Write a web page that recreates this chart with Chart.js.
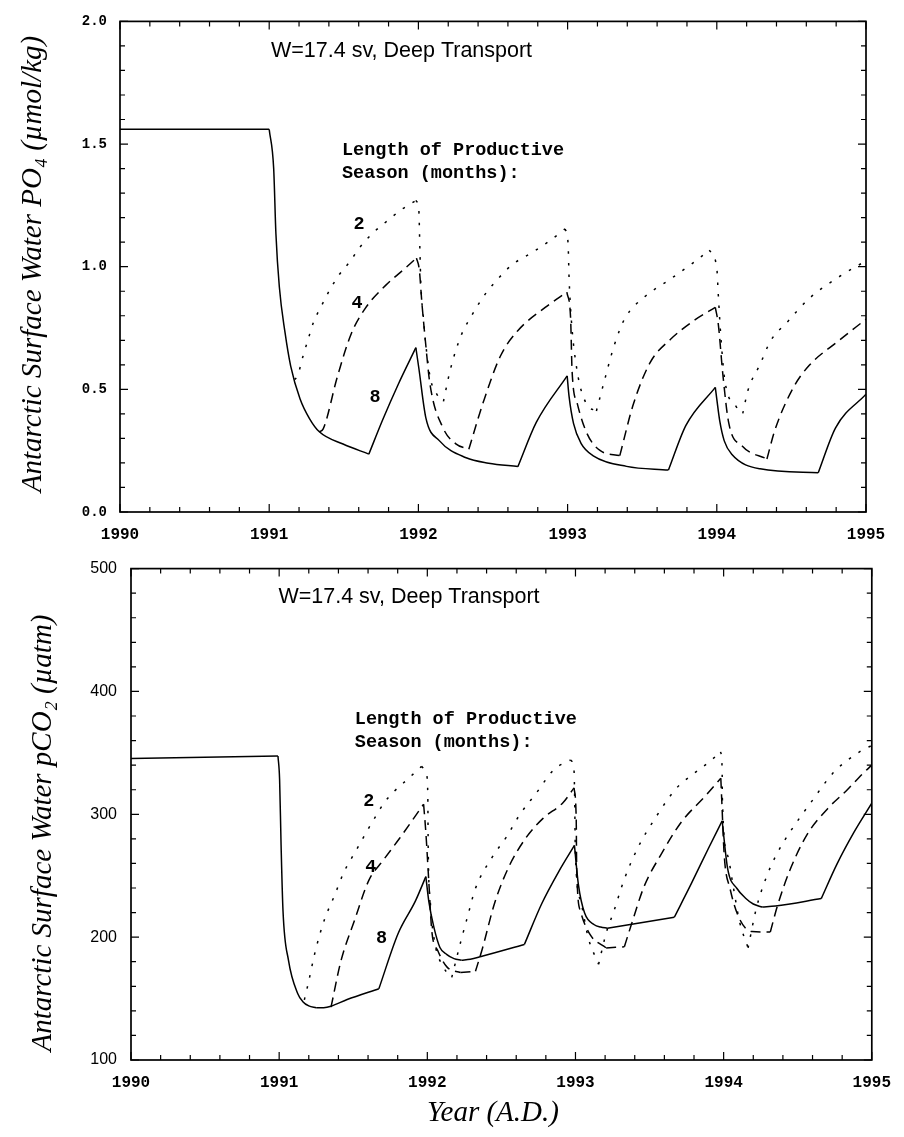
<!DOCTYPE html>
<html>
<head>
<meta charset="utf-8">
<script src="https://cdn.jsdelivr.net/npm/chart.js@4.4.1/dist/chart.umd.min.js"></script>
<style>
  body { margin: 0; background: #fff; }
  #wrap { position: relative; width: 904px; height: 1137px; }
  canvas { position: absolute; left: 0; }
</style>
</head>
<body>
<div id="wrap">
  <canvas id="c-po4" width="904" height="545" style="top:0"></canvas>
  <canvas id="c-pco2" width="904" height="592" style="top:545px"></canvas>
</div>
<script>
// ── DATA ───────────────────────────────────────────────────────────────────
// (W=17.4 sv, deep transport run).

const xTickYears = [1990, 1991, 1992, 1993, 1994, 1995];

// Top panel: surface PO4 (umol/kg)
const po4Ticks = [0.0, 0.5, 1.0, 1.5, 2.0];

const po4Years8 = [1990.0, 1991.0, 1991.03, 1991.045, 1991.068, 1991.106, 1991.144, 1991.207, 1991.271, 1991.336,
  1991.495, 1991.668, 1991.76, 1991.866, 1991.983, 1992.003, 1992.05, 1992.14, 1992.32, 1992.47, 1992.667,
  1992.79, 1992.997, 1993.01, 1993.04, 1993.09, 1993.175, 1993.395, 1993.676, 1993.793, 1993.99, 1994.0,
  1994.02, 1994.05, 1994.1, 1994.29, 1994.68, 1994.796, 1995.0];
const po4Vals8 = [1.56, 1.56, 1.40, 1.134, 0.917, 0.732, 0.595, 0.461, 0.380, 0.327,
  0.277, 0.236, 0.375, 0.522, 0.670, 0.586, 0.384, 0.291, 0.221, 0.199, 0.185,
  0.365, 0.555, 0.47, 0.36, 0.28, 0.228, 0.186, 0.171, 0.353, 0.508, 0.46,
  0.37, 0.29, 0.235, 0.176, 0.160, 0.343, 0.480];

const po4Years4 = [1991.336, 1991.362, 1991.457, 1991.55, 1991.645, 1991.782, 1991.893, 1991.987, 1992.006, 1992.023,
  1992.043, 1992.078, 1992.165, 1992.251, 1992.338, 1992.435, 1992.55, 1992.666, 1992.85, 1992.995, 1993.02,
  1993.03, 1993.065, 1993.13, 1993.217, 1993.35, 1993.44, 1993.553, 1993.69, 1993.853, 1993.99, 1994.01,
  1994.04, 1994.08, 1994.17, 1994.336, 1994.39, 1994.513, 1994.62, 1994.806, 1995.0];
const po4Vals4 = [0.327, 0.339, 0.552, 0.727, 0.831, 0.925, 0.984, 1.035, 0.988, 0.855,
  0.722, 0.520, 0.343, 0.278, 0.256, 0.448, 0.636, 0.739, 0.834, 0.896, 0.792,
  0.575, 0.442, 0.320, 0.251, 0.230, 0.438, 0.609, 0.704, 0.783, 0.834, 0.766,
  0.564, 0.363, 0.269, 0.216, 0.335, 0.507, 0.598, 0.693, 0.786];

const po4Years2 = [1991.17, 1991.19, 1991.226, 1991.26, 1991.298, 1991.35, 1991.402, 1991.471, 1991.54, 1991.609,
  1991.698, 1991.79, 1991.882, 1991.983, 1992.003, 1992.01, 1992.016, 1992.034, 1992.05, 1992.08, 1992.124,
  1992.168, 1992.215, 1992.286, 1992.355, 1992.45, 1992.543, 1992.63, 1992.766, 1992.881, 1992.983, 1993.003,
  1993.01, 1993.024, 1993.064, 1993.126, 1993.193, 1993.24, 1993.313, 1993.383, 1993.52, 1993.678, 1993.86,
  1993.95, 1994.0, 1994.01, 1994.026, 1994.053, 1994.13, 1994.174, 1994.21, 1994.29, 1994.36, 1994.475,
  1994.613, 1994.817, 1995.0];
const po4Vals2 = [0.54, 0.555, 0.634, 0.702, 0.775, 0.840, 0.901, 0.969, 1.020, 1.080,
  1.139, 1.186, 1.231, 1.270, 1.230, 1.069, 0.935, 0.787, 0.681, 0.545, 0.480,
  0.451, 0.583, 0.719, 0.799, 0.890, 0.957, 1.009, 1.059, 1.106, 1.154, 1.097,
  0.953, 0.792, 0.574, 0.441, 0.412, 0.520, 0.680, 0.788, 0.879, 0.945, 1.024,
  1.068, 0.994, 0.886, 0.725, 0.540, 0.430, 0.402, 0.498, 0.602, 0.697, 0.776,
  0.867, 0.958, 1.024];

// Bottom panel: surface pCO2 (uatm)
const pco2Ticks = [100, 200, 300, 400, 500];

const pco2Years8 = [1990.0, 1990.992, 1991.003, 1991.013, 1991.026, 1991.063, 1991.125, 1991.16, 1991.2, 1991.25,
  1991.3, 1991.35, 1991.459, 1991.673, 1991.803, 1991.92, 1991.99, 1992.01, 1992.045, 1992.085, 1992.13,
  1992.18, 1992.23, 1992.29, 1992.363, 1992.655, 1992.772, 1992.888, 1992.993, 1993.02, 1993.061, 1993.127,
  1993.17, 1993.215, 1993.667, 1993.78, 1993.897, 1993.99, 1994.027, 1994.09, 1994.15, 1994.2, 1994.26,
  1994.35, 1994.659, 1994.764, 1994.881, 1995.0];
const pco2Vals8 = [345.5, 347.5, 328.3, 274.8, 221.3, 181.1, 154.1, 147.5, 144.0, 142.5,
  142.6, 143.8, 149.2, 158.0, 203.0, 229.5, 249.3, 229.2, 207.7, 191.6, 186.0,
  182.5, 181.2, 182.0, 184.2, 194.0, 227.2, 253.6, 274.7, 242.5, 219.8, 210.1,
  208.2, 207.3, 216.2, 243.1, 272.2, 294.6, 255.8, 239.6, 231.5, 227.0, 224.5,
  225.3, 231.4, 259.2, 285.6, 309.0];
const pco2Kinks8 = [1991.673, 1992.655, 1993.667, 1994.659];

const pco2Years4 = [1991.35, 1991.416, 1991.511, 1991.606, 1991.70, 1991.813, 1991.975, 1991.99, 1992.01, 1992.03,
  1992.071, 1992.135, 1992.224, 1992.325, 1992.37, 1992.455, 1992.55, 1992.666, 1992.781, 1992.917, 1992.99,
  1993.005, 1993.008, 1993.034, 1993.098, 1993.207, 1993.33, 1993.375, 1993.463, 1993.579, 1993.717, 1993.877,
  1993.981, 1993.988, 1994.004, 1994.043, 1994.105, 1994.192, 1994.315, 1994.363, 1994.447, 1994.564, 1994.702,
  1994.838, 1994.941, 1995.0];
const pco2Vals4 = [143, 180.1, 214.5, 246.4, 262.2, 280.5, 308.2, 285.4, 245.3, 205.2,
  189.0, 175.4, 171.2, 172.2, 190.0, 228.0, 257.2, 280.9, 296.7, 309.6, 321.5,
  296.1, 256.0, 221.0, 202.2, 191.2, 192.2, 209.4, 241.2, 267.6, 294.1, 314.9,
  329.4, 309.4, 266.5, 239.6, 215.4, 204.5, 204.2, 225.4, 254.5, 283.6, 304.6,
  320.4, 333.4, 340.0];
const pco2Kinks4 = [1992.325, 1993.33, 1994.315];

const pco2Years2 = [1991.17, 1991.193, 1991.244, 1991.305, 1991.374, 1991.434, 1991.526, 1991.596, 1991.64, 1991.712,
  1991.779, 1991.871, 1991.961, 1991.994, 1992.003, 1992.006, 1992.02, 1992.048, 1992.11, 1992.165, 1992.226,
  1992.274, 1992.323, 1992.44, 1992.532, 1992.624, 1992.74, 1992.855, 1992.967, 1992.99, 1992.995, 1992.999,
  1993.036, 1993.086, 1993.156, 1993.21, 1993.257, 1993.329, 1993.424, 1993.54, 1993.679, 1993.793, 1993.906,
  1993.979, 1993.99, 1993.991, 1994.027, 1994.067, 1994.107, 1994.165, 1994.22, 1994.291, 1994.361, 1994.454,
  1994.593, 1994.742, 1994.935, 1995.0];
const pco2Vals2 = [149, 160.6, 188.6, 214.0, 234.0, 252.1, 272.0, 287.0, 296.0, 310.0,
  319.0, 329.0, 339.0, 332.5, 317.5, 272.0, 229.2, 197.1, 175.4, 167.3, 196.5,
  217.8, 239.0, 265.5, 281.2, 299.7, 318.0, 336.5, 344.2, 336.0, 309.4, 269.2,
  229.0, 199.6, 177.9, 204.5, 220.4, 247.0, 273.5, 297.2, 320.9, 332.6, 343.0,
  350.8, 336.0, 314.7, 266.5, 239.6, 212.8, 191.2, 223.2, 249.7, 268.3, 286.7,
  310.3, 334.0, 352.2, 356.0];

// ── STYLE ──────────────────────────────────────────────────────────────────

const INK = '#000';
const DASH = { 8: [], 4: [10, 6], 2: [2.5, 9] };
const SEASON_LABEL = ['Length of Productive', 'Season (months):'];
const RUN_LABEL = 'W=17.4 sv, Deep Transport';

const FONT_NOTE  = 'bold 18.5px "Liberation Mono"';
const FONT_RUN   = '21.5px "Liberation Sans"';
const FONT_TITLE = 'italic 29px "Liberation Serif"';

// Split a curve at every change of direction (and at listed kinks) so each
// piece can be drawn with monotone smoothing while corners stay sharp.
function pieces(xs, ys, kinks) {
  const out = [];
  let cur = [{ x: xs[0], y: ys[0] }];
  let prev = null;
  for (let i = 1; i < xs.length; i++) {
    const d = Math.sign(ys[i] - ys[i - 1]);
    const kink = kinks.includes(xs[i - 1]);
    if (prev !== null && (d !== prev || kink)) {
      out.push(cur);
      cur = [cur[cur.length - 1]];
    }
    prev = d;
    cur.push({ x: xs[i], y: ys[i] });
  }
  out.push(cur);
  return out;
}

function series(label, xs, ys, months, kinks = []) {
  return pieces(xs, ys, kinks).map(data => ({
    label,
    data,
    borderColor: INK,
    borderWidth: 1.5,
    borderDash: DASH[months],
    pointRadius: 0,
    cubicInterpolationMode: 'monotone',
    fill: false,
  }));
}

// ── PLUGINS ────────────────────────────────────────────────────────────────

// Box frame with inward major/minor tick marks on all four sides
const frameTicks = {
  id: 'frameTicks',
  afterDatasetsDraw(chart, args, opts) {
    const { ctx, chartArea: a, scales: { x, y } } = chart;
    ctx.save();
    ctx.strokeStyle = INK;
    ctx.lineWidth = 1.7;
    ctx.strokeRect(a.left, a.top, a.right - a.left, a.bottom - a.top);
    ctx.lineWidth = 1.2;
    ctx.beginPath();
    const nx = Math.round((x.max - x.min) / opts.xMinor);
    for (let i = 0; i <= nx; i++) {
      const v = x.min + i * opts.xMinor;
      const len = (i % opts.xEvery === 0) ? 8 : 5;
      const px = x.getPixelForValue(v);
      ctx.moveTo(px, a.bottom); ctx.lineTo(px, a.bottom - len);
      ctx.moveTo(px, a.top);    ctx.lineTo(px, a.top + len);
    }
    const ny = Math.round((y.max - y.min) / opts.yMinor);
    for (let i = 0; i <= ny; i++) {
      const v = y.min + i * opts.yMinor;
      const len = (i % opts.yEvery === 0) ? 8 : 5;
      const py = y.getPixelForValue(v);
      ctx.moveTo(a.left, py);  ctx.lineTo(a.left + len, py);
      ctx.moveTo(a.right, py); ctx.lineTo(a.right - len, py);
    }
    ctx.stroke();
    ctx.restore();
  },
};

// Annotations: notes in data units, titles in canvas pixels
const textLayer = {
  id: 'textLayer',
  afterDraw(chart, args, opts) {
    const { ctx, scales: { x, y } } = chart;
    ctx.save();
    ctx.fillStyle = INK;
    ctx.textBaseline = 'middle';
    (opts.notes || []).forEach(n => {
      ctx.font = n.font;
      ctx.textAlign = n.align || 'left';
      ctx.fillText(n.text, x.getPixelForValue(n.x), y.getPixelForValue(n.y));
    });
    (opts.titles || []).forEach(t => {
      ctx.save();
      ctx.translate(t.px, t.py);
      ctx.rotate(t.rot || 0);
      ctx.font = FONT_TITLE;
      ctx.textAlign = 'center';
      ctx.fillText(t.text, 0, 0);
      ctx.restore();
    });
    ctx.restore();
  },
};

// ── CHART BUILDER ──────────────────────────────────────────────────────────

function buildPanel(canvasId, cfg) {
  return new Chart(document.getElementById(canvasId), {
    type: 'line',
    data: { datasets: cfg.datasets },
    plugins: [frameTicks, textLayer],
    options: {
      responsive: false,
      animation: false,
      events: [],
      layout: { padding: cfg.padding },
      plugins: {
        legend: { display: false },
        tooltip: { enabled: false },
        frameTicks: cfg.ticks,
        textLayer: { notes: cfg.notes, titles: cfg.titles },
      },
      scales: {
        x: {
          type: 'linear',
          min: xTickYears[0],
          max: xTickYears[xTickYears.length - 1],
          afterFit: s => { s.height = cfg.xHeight; },
          afterBuildTicks: s => { s.ticks = xTickYears.map(v => ({ value: v })); },
          ticks: { color: INK, font: cfg.xFont, padding: cfg.xPad, maxRotation: 0, callback: v => String(v) },
          grid: { display: false, drawTicks: false },
          border: { display: false },
        },
        y: {
          type: 'linear',
          min: cfg.yTicks[0],
          max: cfg.yTicks[cfg.yTicks.length - 1],
          afterFit: s => { s.width = cfg.yWidth; },
          afterBuildTicks: s => { s.ticks = cfg.yTicks.map(v => ({ value: v })); },
          ticks: { color: INK, font: cfg.yFont, padding: cfg.yPad, callback: cfg.yFmt },
          grid: { display: false, drawTicks: false },
          border: { display: false },
        },
      },
    },
  });
}

buildPanel('c-po4', {
  datasets: [
    ...series('8 months', po4Years8, po4Vals8, 8),
    ...series('4 months', po4Years4, po4Vals4, 4),
    ...series('2 months', po4Years2, po4Vals2, 2),
  ],
  yTicks: po4Ticks,
  yFmt: v => v.toFixed(1),
  padding: { left: 0, right: 38, top: 14, bottom: 0 },
  yWidth: 120, xHeight: 33,
  xFont: { family: 'Liberation Mono', weight: 'bold', size: 16 }, xPad: 13,
  yFont: { family: 'Liberation Mono', weight: 'bold', size: 14 }, yPad: 13,
  ticks: { xMinor: 0.2, xEvery: 5, yMinor: 0.1, yEvery: 5 },
  notes: [
    { text: RUN_LABEL, x: 1991.012, y: 1.878, font: FONT_RUN },
    { text: SEASON_LABEL[0], x: 1991.488, y: 1.476, font: FONT_NOTE },
    { text: SEASON_LABEL[1], x: 1991.488, y: 1.379, font: FONT_NOTE },
    { text: '2', x: 1991.602, y: 1.173, font: FONT_NOTE, align: 'center' },
    { text: '4', x: 1991.588, y: 0.851, font: FONT_NOTE, align: 'center' },
    { text: '8', x: 1991.709, y: 0.468, font: FONT_NOTE, align: 'center' },
  ],
  titles: [
    { text: 'Antarctic Surface Water PO\u2084 (\u00b5mol/kg)', px: 33, py: 264, rot: -Math.PI / 2 },
  ],
});

buildPanel('c-pco2', {
  datasets: [
    ...series('8 months', pco2Years8, pco2Vals8, 8, pco2Kinks8),
    ...series('4 months', pco2Years4, pco2Vals4, 4, pco2Kinks4),
    ...series('2 months', pco2Years2, pco2Vals2, 2),
  ],
  yTicks: pco2Ticks,
  yFmt: v => String(v),
  padding: { left: 0, right: 26, top: 16, bottom: 0 },
  yWidth: 131, xHeight: 77,
  xFont: { family: 'Liberation Mono', weight: 'bold', size: 16 }, xPad: 13,
  yFont: { family: 'Liberation Sans', size: 16 }, yPad: 14,
  ticks: { xMinor: 0.2, xEvery: 5, yMinor: 20, yEvery: 5 },
  notes: [
    { text: RUN_LABEL, x: 1990.995, y: 476.7, font: FONT_RUN },
    { text: SEASON_LABEL[0], x: 1991.511, y: 377.4, font: FONT_NOTE },
    { text: SEASON_LABEL[1], x: 1991.511, y: 358.9, font: FONT_NOTE },
    { text: '2', x: 1991.605, y: 310.4, font: FONT_NOTE, align: 'center' },
    { text: '4', x: 1991.618, y: 256.7, font: FONT_NOTE, align: 'center' },
    { text: '8', x: 1991.691, y: 199.0, font: FONT_NOTE, align: 'center' },
  ],
  titles: [
    { text: 'Antarctic Surface Water pCO\u2082 (\u00b5atm)', px: 43, py: 288, rot: -Math.PI / 2 },
    { text: 'Year (A.D.)', px: 493, py: 568 },
  ],
});
</script>
</body>
</html>
